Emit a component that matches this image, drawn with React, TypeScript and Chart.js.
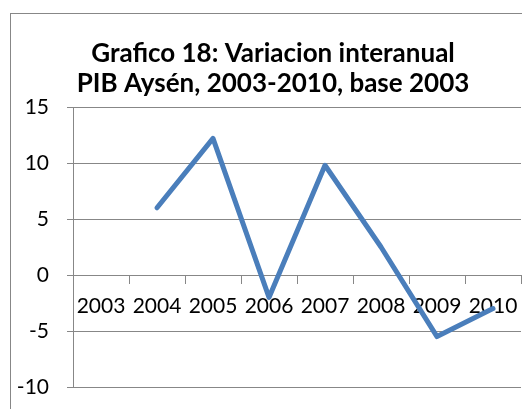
import React, { useEffect, useRef } from "react";
import { Chart, registerables } from "chart.js";

Chart.register(...registerables);

const titleLines = ["Grafico 18: Variacion interanual", "PIB Aysén, 2003-2010, base 2003"];
const years = ["2003", "2004", "2005", "2006", "2007", "2008", "2009", "2010"];
const variacion: (number | null)[] = [null, 6.0, 12.2, -2.0, 9.8, 2.5, -5.5, -3.0];
const yMin = -10;
const yMax = 15;
const yStep = 5;

const GRID = "#878787";
const FONT = "Lato, 'Noto Sans', sans-serif";

const titlePlugin = {
  id: "centeredTitle",
  afterDraw(chart: any) {
    const ctx = chart.ctx;
    ctx.save();
    ctx.fillStyle = "#000";
    ctx.font = `bold 26px ${FONT}`;
    ctx.textAlign = "center";
    ctx.textBaseline = "alphabetic";
    const cx = chart.width / 2;
    titleLines.forEach((line, i) => {
      ctx.fillText(line, cx, 48 + i * 30);
    });
    ctx.restore();
  },
};

export default function App() {
  const ref = useRef<HTMLCanvasElement | null>(null);
  useEffect(() => {
    document.body.style.overflow = "hidden";
    const ctx = ref.current!;
    const chart = new Chart(ctx, {
      type: "line",
      data: {
        labels: years,
        datasets: [
          {
            data: variacion,
            borderColor: "#4a7ebb",
            borderWidth: 5,
            pointRadius: 0,
            tension: 0,
            borderJoinStyle: "round",
            borderCapStyle: "round",
            fill: false,
          },
        ],
      },
      plugins: [titlePlugin],
      options: {
        animation: false,
        responsive: false,
        maintainAspectRatio: false,
        layout: { padding: { top: 93, left: 0, right: 14, bottom: 47 } },
        plugins: {
          legend: { display: false },
          tooltip: { enabled: false },
          title: { display: false },
        },
        scales: {
          x: {
            type: "category",
            position: { y: 0 },
            offset: true,
            grid: {
              display: true,
              drawOnChartArea: false,
              drawTicks: true,
              tickLength: 8,
              color: GRID,
              offset: true,
            },
            border: { display: true, color: GRID },
            ticks: {
              color: "#000",
              font: { family: FONT, size: 21 },
              padding: 11,
              maxRotation: 0,
              autoSkip: false,
            },
          },
          y: {
            min: yMin,
            max: yMax,
            ticks: {
              stepSize: yStep,
              color: "#000",
              font: { family: FONT, size: 21 },
              padding: 18,
            },
            grid: { color: GRID, tickLength: 6, drawTicks: true },
            border: { display: true, color: GRID },
            afterFit: (scale: any) => {
              scale.width = 62;
            },
          },
        },
      },
    });
    return () => chart.destroy();
  }, []);

  return (
    <div style={{ position: "fixed", left: 0, top: 0, width: 522, height: 409, overflow: "hidden", background: "#fff" }}>
      <div
        style={{
          position: "absolute",
          left: 10,
          top: 13,
          width: 526,
          height: 430,
          border: "1px solid #878787",
          boxSizing: "border-box",
          background: "#fff",
        }}
      >
        <canvas ref={ref} width={524} height={420} style={{ display: "block", width: 524, height: 420 }} />
      </div>
    </div>
  );
}
